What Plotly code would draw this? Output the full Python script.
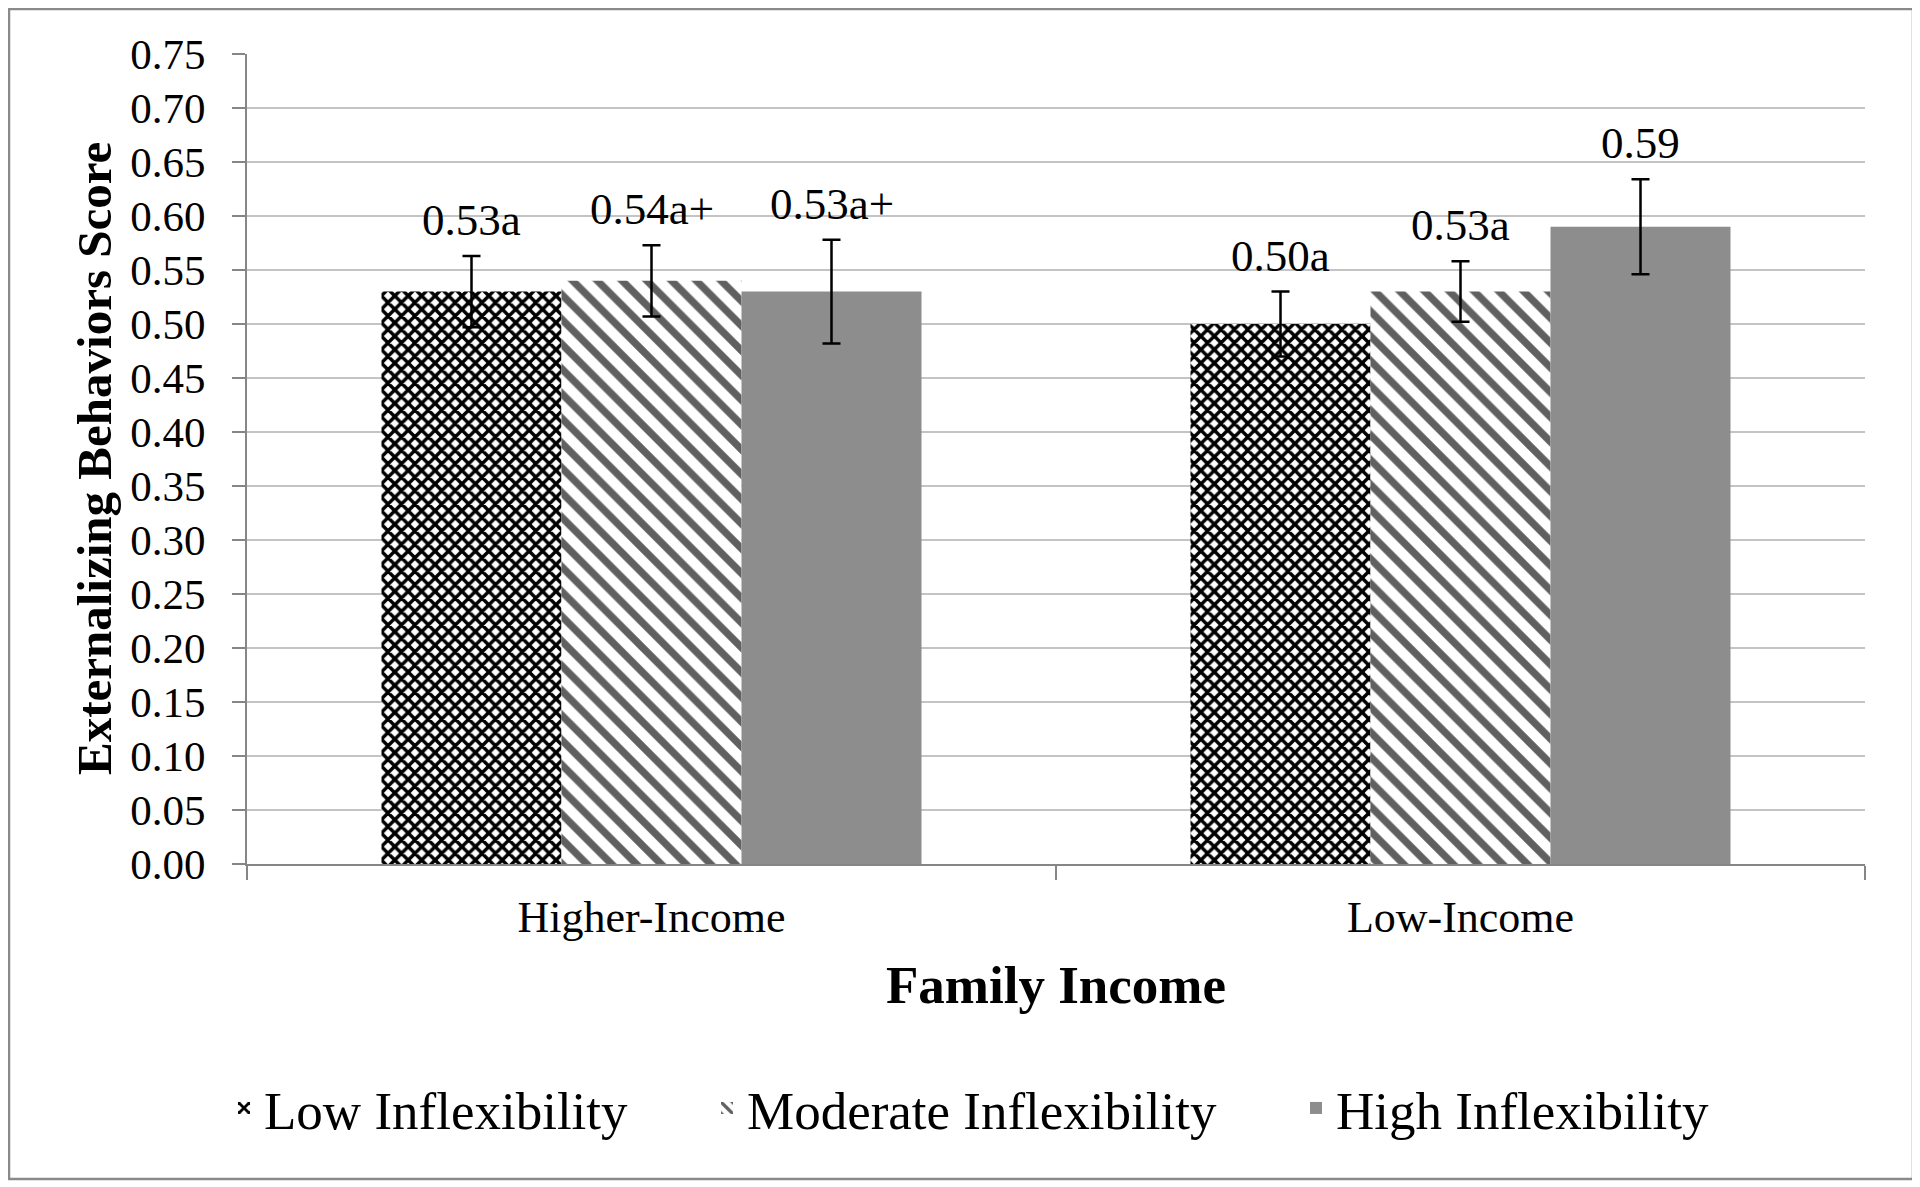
import plotly.graph_objects as go

categories = ["Higher-Income", "Low-Income"]
series_names = ["Low Inflexibility", "Moderate Inflexibility", "High Inflexibility"]
low_vals = [0.53, 0.50]
mod_vals = [0.54, 0.53]
high_vals = [0.53, 0.59]
low_err = [0.033, 0.030]
mod_err = [0.033, 0.028]
high_err = [0.048, 0.044]
low_labels = ["0.53a", "0.50a"]
mod_labels = ["0.54a+", "0.53a"]
high_labels = ["0.53a+", "0.59"]
y_ticks = [i * 0.05 for i in range(16)]

FONT = "Liberation Serif, Times New Roman, serif"
OFF = 8  # page offset of the plot div
W, H = 1912, 1179
ML, MR, MT, MB = 239, 55, 46, 323
PW, PH = W - ML - MR, H - MT - MB
BARGAP = 0.3325
BW = (1 - BARGAP) / 3

def px_x(p):
    return (p - OFF - ML) / PW

def px_y(p):
    return (H - MB - (p - OFF)) / PH

fig = go.Figure()

styles = [
    dict(color="white", pattern=dict(shape="x", fgcolor="black", bgcolor="white", fgopacity=1,
                                     size=9.5, solidity=0.6)),
    dict(color="white", pattern=dict(shape="\\", fgcolor="#606060", bgcolor="white", fgopacity=1,
                                     size=17.5, solidity=0.42)),
    dict(color="#8d8d8d"),
]
vals = [low_vals, mod_vals, high_vals]
errs = [low_err, mod_err, high_err]
labels = [low_labels, mod_labels, high_labels]
legend_ids = ["legend", "legend2", "legend3"]
legend_text_start = [266, 749, 1338]

for i, name in enumerate(series_names):
    fig.add_trace(go.Bar(
        name=name, x=categories, y=vals[i], legend=legend_ids[i],
        marker=dict(line=dict(width=0), **styles[i]),
        error_y=dict(type="data", array=errs[i], visible=True, color="black", thickness=2.5, width=9),
    ))

annotations = []
for i in range(3):
    for j in range(len(categories)):
        annotations.append(dict(
            x=j + (i - 1) * BW, y=vals[i][j] + errs[i][j], xref="x", yref="y",
            text=labels[i][j], showarrow=False, yanchor="middle", yshift=36,
            font=dict(family=FONT, size=45, color="black"),
        ))

annotations.append(dict(
    x=0.5, y=px_y(985), xref="paper", yref="paper", text="<b>Family Income</b>",
    showarrow=False, xanchor="center", yanchor="middle",
    font=dict(family=FONT, size=53, color="black"),
))
annotations.append(dict(
    x=px_x(94), y=0.5, xref="paper", yref="paper", text="<b>Externalizing Behaviors Score</b>",
    showarrow=False, xanchor="center", yanchor="middle", textangle=-90,
    font=dict(family=FONT, size=49, color="black"),
))

legend_common = dict(orientation="h", xanchor="left", y=px_y(1108), yanchor="middle",
                     font=dict(family=FONT, size=53, color="black"), bgcolor="rgba(0,0,0,0)")

layout_legends = {}
for k, lid in enumerate(legend_ids):
    layout_legends[lid] = dict(x=px_x(legend_text_start[k] - 42), **legend_common)

fig.update_layout(
    width=W, height=H,
    margin=dict(l=ML, r=MR, t=MT, b=MB, autoexpand=False),
    paper_bgcolor="white", plot_bgcolor="white",
    barmode="group", bargap=BARGAP, bargroupgap=0,
    font=dict(family=FONT, color="black"),
    showlegend=True,
    annotations=annotations,
    shapes=[dict(type="rect", xref="paper", yref="paper",
                 x0=px_x(9), x1=px_x(1913), y0=px_y(1179), y1=px_y(9),
                 line=dict(color="#8a8a8a", width=2.5), fillcolor="rgba(0,0,0,0)", layer="below")],
    **layout_legends,
)

fig.update_xaxes(
    type="category", showline=True, linecolor="#868686", linewidth=2,
    ticks="outside", tickson="boundaries", ticklen=14, tickcolor="#868686", tickwidth=2,
    tickfont=dict(family=FONT, size=44, color="black"), ticklabelstandoff=13,
    showgrid=False,
)
fig.update_yaxes(
    range=[0, 0.75], tickvals=y_ticks, tickformat=".2f",
    showline=True, linecolor="#868686", linewidth=2,
    ticks="outside", ticklen=13, tickcolor="#868686", tickwidth=2,
    tickfont=dict(family=FONT, size=43, color="black"), ticklabelstandoff=18,
    showgrid=True, gridcolor="#c4c4c4", gridwidth=2, zeroline=False,
)

fig.write_html("out.html")
